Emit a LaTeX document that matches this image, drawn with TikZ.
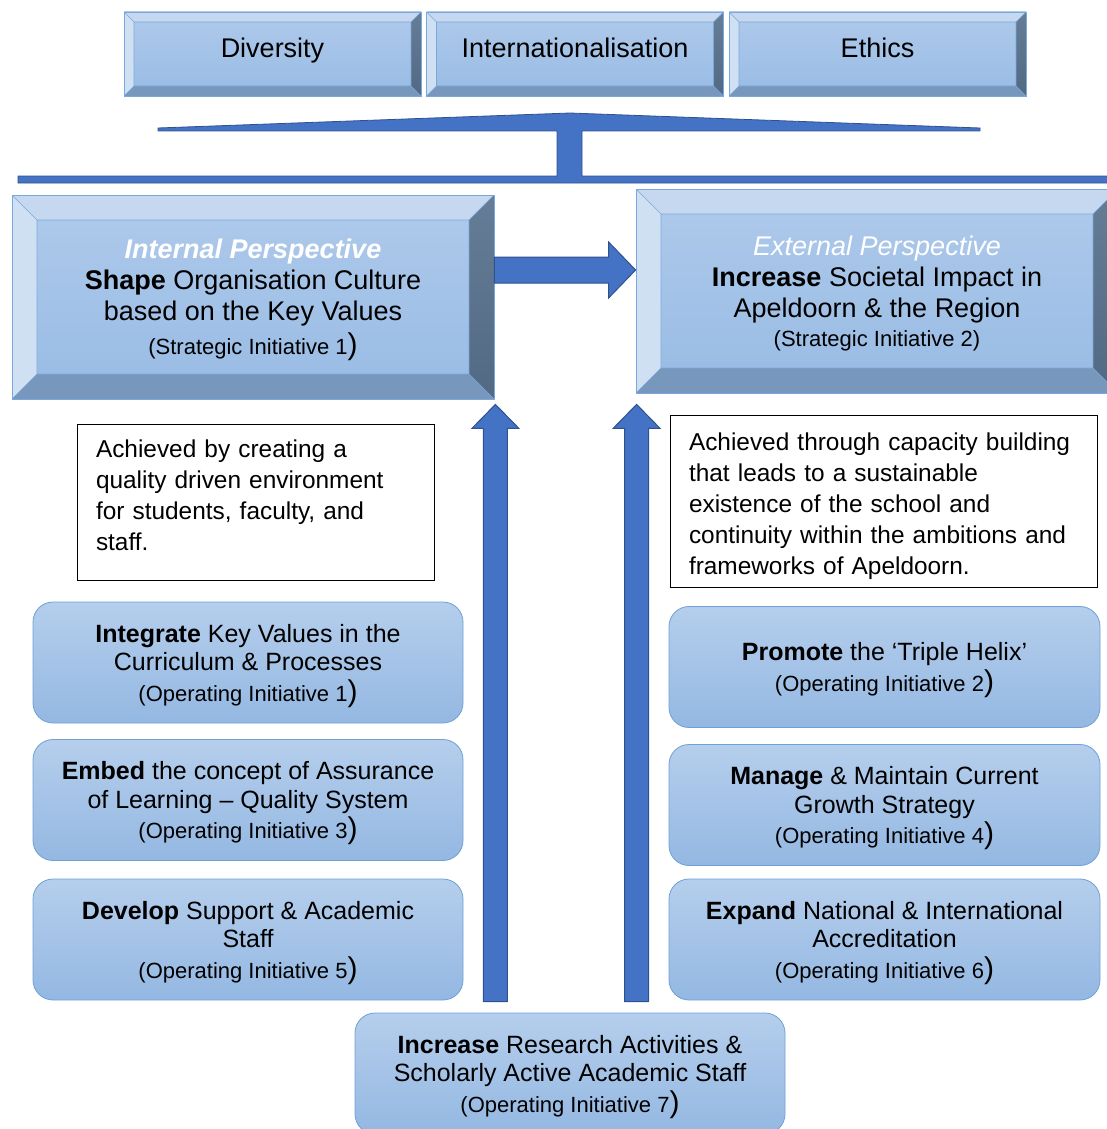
\documentclass[tikz,border=0pt]{standalone}
\usepackage{fontspec}
\setmainfont{Liberation Sans}
\usetikzlibrary{positioning,calc}

\definecolor{arrowfill}{HTML}{4472C4}
\definecolor{arrowline}{HTML}{2F528F}
\definecolor{bvline}{HTML}{7AA8DD}
\definecolor{bvhi}{HTML}{AFCAEB}
\definecolor{bvlo}{HTML}{98BBE4}
\definecolor{bvtop}{HTML}{C5D8EF}
\definecolor{bvleft}{HTML}{D0E0F3}
\definecolor{bvbot}{HTML}{7897BC}
\definecolor{bvrighthi}{HTML}{667D98}
\definecolor{bvrightlo}{HTML}{526984}
\definecolor{ophi}{HTML}{B5CEEC}
\definecolor{oplo}{HTML}{94B8E2}
\definecolor{opline}{HTML}{6FA0D8}

\newcommand{\bigclose}{{\fontsize{30}{20}\selectfont )}}
\newcommand{\initfont}{\fontsize{22}{25}\selectfont}

\begin{document}
\begin{tikzpicture}[
  x=1pt, y=1pt,
  bevelbox/.style={draw=bvline, line width=0.8pt, top color=bvhi, bottom color=bvlo, inner sep=0pt, align=center,
    path picture={
      \coordinate (pnw) at (path picture bounding box.north west);
      \coordinate (pne) at (path picture bounding box.north east);
      \coordinate (psw) at (path picture bounding box.south west);
      \coordinate (pse) at (path picture bounding box.south east);
      \coordinate (inw) at ([shift={(#1pt,-#1pt)}]pnw);
      \coordinate (ine) at ([shift={(-#1pt,-#1pt)}]pne);
      \coordinate (isw) at ([shift={(#1pt,#1pt)}]psw);
      \coordinate (ise) at ([shift={(-#1pt,#1pt)}]pse);
      \fill[bvtop] (pnw) -- (pne) -- (ine) -- (inw) -- cycle;
      \fill[bvleft] (pnw) -- (inw) -- (isw) -- (psw) -- cycle;
      \fill[bvbot] (psw) -- (isw) -- (ise) -- (pse) -- cycle;
      \shade[top color=bvrighthi, bottom color=bvrightlo] (pne) -- (pse) -- (ise) -- (ine) -- cycle;
      \draw[bvline, line width=0.6pt] (inw) rectangle (ise) (pnw) -- (inw) (pne) -- (ine) (psw) -- (isw) (pse) -- (ise);
    }},
  valbox/.style={bevelbox=10, minimum width=297pt, minimum height=84pt, text depth=13pt, font=\fontsize{27}{30}\selectfont},
  persp/.style={bevelbox=25, minimum width=482pt, minimum height=204pt, font=\fontsize{27}{31}\selectfont},
  note/.style={draw=black, line width=0.8pt, fill=white, align=left, inner xsep=19pt, font=\fontsize{24.4}{31}\selectfont},
  opbox/.style={draw=opline, line width=0.8pt, rounded corners=20pt, top color=ophi, bottom color=oplo, text depth=-2pt,
    minimum width=430pt, minimum height=121pt, align=center, font=\fontsize{25}{28.5}\selectfont},
  blockarrow/.style={draw=arrowline, fill=arrowfill, line width=1pt}
]
\useasboundingbox (0,0) rectangle (1107,-1129);

% Key values
\node[valbox] (vdiv) at (272.5,-54) {Diversity};
\node[valbox] (vint) at (575,-54) {Internationalisation};
\node[valbox] (veth) at (877.5,-54) {Ethics};

% Bracket under the values
\draw[blockarrow, line width=0.8pt] (158,-128) -- (570,-113) -- (980,-128) -- (980,-131) -- (582,-131) -- (582,-176)
  -- (1110,-176) -- (1110,-183) -- (18,-183) -- (18,-176) -- (557,-176) -- (557,-131) -- (158,-131) -- cycle;

% Perspectives
\node[persp, text depth=-2pt] (intp) at (253,-297) {{\color{white}\bfseries\itshape Internal Perspective}\\
  \textbf{Shape} Organisation Culture\\
  based on the Key Values\\[3pt]
  {\fontsize{22}{24}\selectfont (Strategic Initiative 1\bigclose}};
\node[persp, text depth=0pt] (extp) at (877,-291) {{\color{white}\itshape External Perspective}\\
  \textbf{Increase} Societal Impact in\\
  Apeldoorn \& the Region\\[-2pt]
  {\fontsize{22}{24}\selectfont (Strategic Initiative 2)}};

% Notes
\node[note, text width=319pt, minimum height=156pt] (nint) at (255.5,-502) {Achieved by creating a\\
  quality driven environment\\ for students, faculty, and\\ staff.\\[-17pt]\mbox{}};
\node[note, text width=389pt, minimum height=172pt] (next) at (883.5,-501) {Achieved through capacity building\\
  that leads to a sustainable\\ existence of the school and\\ continuity within the ambitions and\\
  frameworks of Apeldoorn.\\[-37pt]\mbox{}};

% Operating initiatives, internal
\node[opbox] (op1) at (248,-662.5) {\textbf{Integrate} Key Values in the\\ Curriculum \& Processes\\[2pt]
  {\initfont (Operating Initiative 1\bigclose}};
\node[opbox] (op3) at (248,-800) {\textbf{Embed} the concept of Assurance\\ of Learning -- Quality System\\[2pt]
  {\initfont (Operating Initiative 3\bigclose}};
\node[opbox] (op5) at (248,-939.5) {\textbf{Develop} Support \& Academic\\ Staff\\[2pt]
  {\initfont (Operating Initiative 5\bigclose}};

% Operating initiatives, external
\node[opbox, minimum width=431pt] (op2) at (884.5,-667) {\textbf{Promote} the `Triple Helix'\\[2pt]
  {\initfont (Operating Initiative 2\bigclose}};
\node[opbox, minimum width=431pt] (op4) at (884.5,-805) {\textbf{Manage} \& Maintain Current\\ Growth Strategy\\[2pt]
  {\initfont (Operating Initiative 4\bigclose}};
\node[opbox, minimum width=431pt] (op6) at (884.5,-939.5) {\textbf{Expand} National \& International\\ Accreditation\\[2pt]
  {\initfont (Operating Initiative 6\bigclose}};

% Research
\node[opbox] (research) at (570,-1073.5) {\textbf{Increase} Research Activities \&\\ Scholarly Active Academic Staff\\[2pt]
  {\initfont (Operating Initiative 7\bigclose}};

% Arrow internal -> external
\coordinate (ha) at ([yshift=27pt]intp.east);
\coordinate (hb) at (extp.west |- ha);
\draw[blockarrow] ([yshift=13pt]ha) -- ([xshift=-27pt,yshift=13pt]hb) -- ([xshift=-27pt,yshift=28pt]hb) -- (hb)
  -- ([xshift=-27pt,yshift=-28pt]hb) -- ([xshift=-27pt,yshift=-13pt]hb) -- ([yshift=-13pt]ha) -- cycle;

% Arrows up from research
\coordinate (la) at ($(research.north -| intp.east)+(1,11)$);
\coordinate (lb) at ($(intp.south -| intp.east)+(1,-5)$);
\coordinate (ra) at ($(research.north -| extp.west)+(1,11)$);
\coordinate (rb) at ($(extp.south -| extp.west)+(1,-11)$);
\foreach \a/\b in {la/lb, ra/rb}
  \draw[blockarrow] ([xshift=-12pt]\a) -- ([xshift=-12pt,yshift=-24pt]\b) -- ([xshift=-23.5pt,yshift=-24pt]\b) -- (\b)
    -- ([xshift=23.5pt,yshift=-24pt]\b) -- ([xshift=12pt,yshift=-24pt]\b) -- ([xshift=12pt]\a) -- cycle;
\end{tikzpicture}
\end{document}
